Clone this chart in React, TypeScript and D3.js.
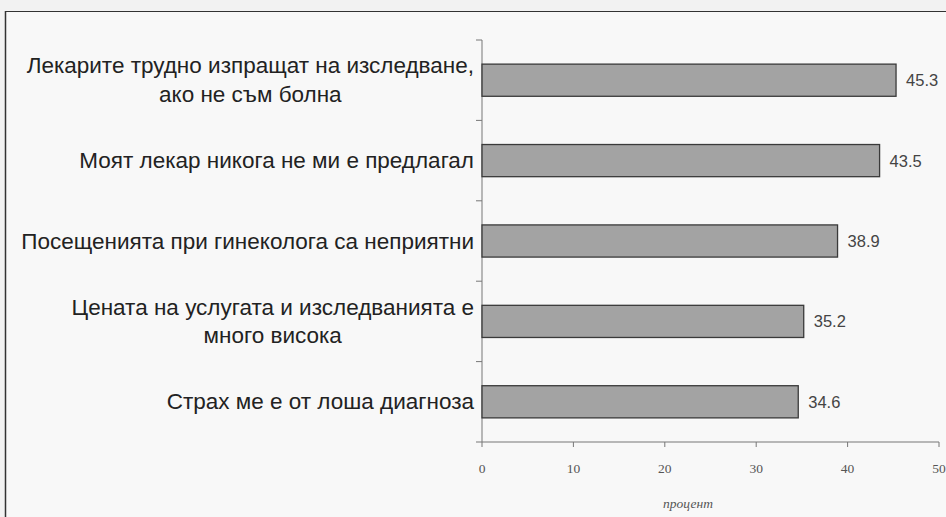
import React from "react";
import * as d3 from "d3";

const categories: string[][] = [
  ["Лекарите трудно изпращат на изследване,", "ако не съм болна"],
  ["Моят лекар никога не ми е предлагал"],
  ["Посещенията при гинеколога са неприятни"],
  ["Цената на услугата и изследванията е", "много висока"],
  ["Страх ме е от лоша диагноза"],
];
const values: number[] = [45.3, 43.5, 38.9, 35.2, 34.6];
const xTicks: number[] = [0, 10, 20, 30, 40, 50];
const axisTitle = "процент";

const W = 946;
const H = 517;
const x0 = 482;
const x1 = 939;
const yTop = 40;
const yBot = 442;
const labelRight = 474;
const labelFont = "22.5px 'Liberation Sans', Arial, sans-serif";

let ctx: CanvasRenderingContext2D | null = null;
function measure(t: string): number {
  if (!ctx) ctx = document.createElement("canvas").getContext("2d");
  if (!ctx) return t.length * 12;
  ctx.font = labelFont;
  return ctx.measureText(t).width;
}

export default function App() {
  const x = d3.scaleLinear().domain([0, 50]).range([x0, x1]);
  const y = d3
    .scaleBand<number>()
    .domain(d3.range(categories.length))
    .range([yTop, yBot])
    .paddingInner(0.6)
    .paddingOuter(0.3);
  const band = (yBot - yTop) / categories.length;
  const boundaries = d3.range(categories.length + 1).map((i) => yTop + i * band);

  return (
    <svg
      width={W}
      height={H}
      style={{ position: "absolute", left: 0, top: 0, display: "block" }}
    >
      <rect x={0} y={0} width={W} height={H} fill="#f2f2f2" />
      <rect x={5} y={11} width={W - 5} height={H - 11} fill="#f8f8f8" />
      <line x1={5.5} y1={11} x2={5.5} y2={H} stroke="#333" strokeWidth={1.5} />
      <line x1={5} y1={11.5} x2={W} y2={11.5} stroke="#333" strokeWidth={1.2} />

      {/* y axis */}
      <line x1={x0} y1={yTop} x2={x0} y2={yBot} stroke="#777" strokeWidth={1} />
      {boundaries.map((b, i) => (
        <line key={"yt" + i} x1={x0 - 6} y1={b} x2={x0} y2={b} stroke="#777" strokeWidth={1} />
      ))}
      {/* x axis */}
      <line x1={x0} y1={yBot} x2={x1} y2={yBot} stroke="#777" strokeWidth={1} />
      {xTicks.map((t) => (
        <g key={"xt" + t}>
          <line x1={x(t)} y1={yBot} x2={x(t)} y2={yBot + 5} stroke="#777" strokeWidth={1} />
          <text
            x={x(t)}
            y={yBot + 31}
            textAnchor="middle"
            fontFamily="'Liberation Serif', 'Times New Roman', serif"
            fontSize={13.5}
            fill="#555"
          >
            {t}
          </text>
        </g>
      ))}
      <text
        x={688}
        y={508}
        textAnchor="middle"
        fontFamily="'Liberation Serif', 'Times New Roman', serif"
        fontStyle="italic"
        fontSize={13.5}
        fill="#555"
      >
        {axisTitle}
      </text>

      {values.map((v, i) => {
        const by = y(i)!;
        const bh = y.bandwidth();
        const cy = by + bh / 2;
        const lines = categories[i];
        const maxW = Math.max(...lines.map(measure));
        const lineH = 28.5;
        const cx = labelRight - maxW / 2;
        return (
          <g key={"b" + i}>
            <rect
              x={x(0)}
              y={by}
              width={x(v) - x(0)}
              height={bh}
              fill="#a3a3a3"
              stroke="#3a3a3a"
              strokeWidth={1.3}
            />
            <text
              x={x(v) + 10}
              y={cy + 6}
              fontFamily="'Liberation Sans', Arial, sans-serif"
              fontSize={16.5}
              fill="#444"
            >
              {v.toFixed(1)}
            </text>
            {lines.map((l, j) => (
              <text
                key={j}
                x={lines.length > 1 ? cx : labelRight}
                y={cy + 7.5 + (j - (lines.length - 1) / 2) * lineH}
                textAnchor={lines.length > 1 ? "middle" : "end"}
                style={{ font: labelFont }}
                fill="#222"
              >
                {l}
              </text>
            ))}
          </g>
        );
      })}
    </svg>
  );
}
